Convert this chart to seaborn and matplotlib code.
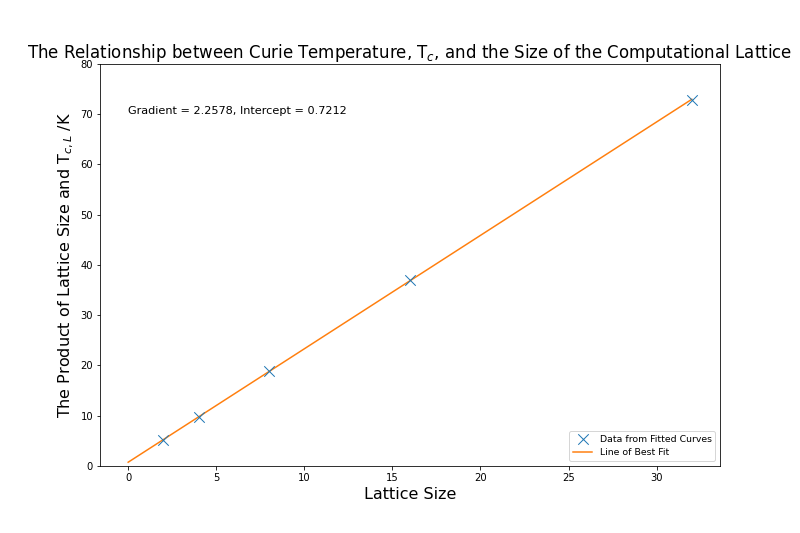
import numpy as np
import pandas as pd
import seaborn as sns
import matplotlib.pyplot as plt

# values
lattice_size = [2, 4, 8, 16, 32]
product_tc = [5.2, 9.7, 18.9, 37.0, 72.8]
gradient = 2.2578
intercept = 0.7212
fit_x = [0, 32]


def main():
    plt.rcParams['font.family'] = ['DejaVu Sans']
    fig = plt.figure(figsize=(800 / 72, 533 / 72), dpi=72)
    ax = fig.add_axes([0.125, 0.126, 0.775, 0.754])

    pts = pd.DataFrame({"x": lattice_size, "y": product_tc})
    fit = pd.DataFrame({"x": fit_x, "y": [gradient * v + intercept for v in fit_x]})

    sns.scatterplot(data=pts, x="x", y="y", marker="x", s=110, color="#1f77b4",
                    linewidth=1.0, label="Data from Fitted Curves", ax=ax, zorder=3)
    sns.lineplot(data=fit, x="x", y="y", color="#ff7f0e", linewidth=1.5,
                 label="Line of Best Fit", ax=ax)

    ax.set_ylim(0, 80)
    ax.text(0, 70, f"Gradient = {gradient}, Intercept = {intercept}", fontsize=11.2)
    ax.set_title(r"The Relationship between Curie Temperature, T$_c$, and the Size of the Computational Lattice",
                 fontsize=16.6)
    ax.set_xlabel("Lattice Size", fontsize=16)
    ax.set_ylabel(r"The Product of Lattice Size and T$_{c,L}$ /K", fontsize=16)
    ax.legend(loc="lower right", fontsize=9.4)

    fig.savefig("out.png", dpi=72)
    plt.close(fig)


if __name__ == "__main__":
    main()
